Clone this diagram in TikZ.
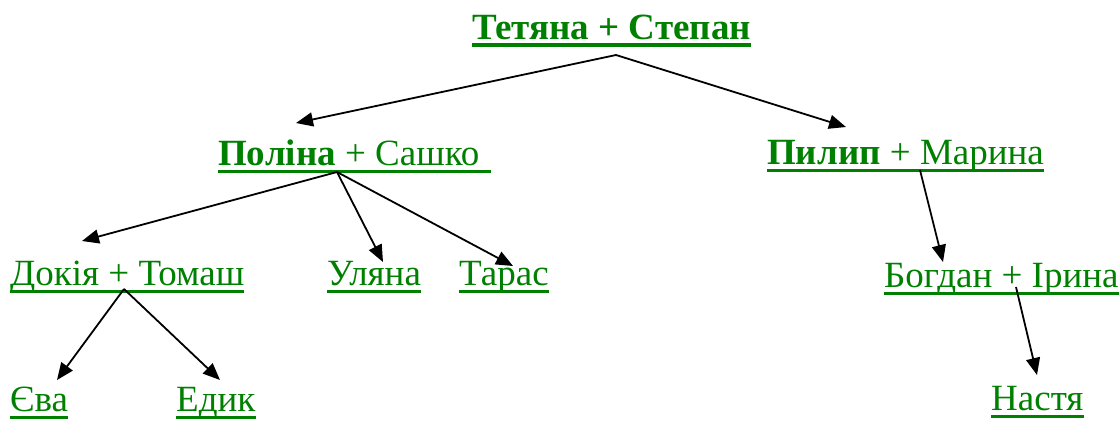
\documentclass[tikz,border=0pt]{standalone}
\usepackage{fontspec}
\setmainfont{Liberation Serif}
\usepackage{xcolor}
\usepackage{tikz}
\usetikzlibrary{calc,arrows.meta}
\definecolor{kin}{RGB}{0,128,0}
\tikzset{person/.style={text=kin,inner sep=0pt,text depth=5pt,anchor=south west,font=\fontsize{37}{40}\selectfont,
		append after command={(\tikzlastnode.south west) edge[draw=kin,line width=3pt] (\tikzlastnode.south east)}},
	root person/.style={person,append after command={(\tikzlastnode.south west) edge[draw=kin,line width=4pt] (\tikzlastnode.south east)}},
	descent/.style={draw=black,line width=1.8pt,-{Triangle[length=17pt,width=14pt]}}}

\begin{document}
\begin{tikzpicture}[x=1pt,y=-1pt]
			\useasboundingbox (0,0) rectangle (1120,421);
			\node[root person] (top) at (472,45) {\textbf{Тетяна + Степан}};
			\node[person] (pol) at (218,171) {\textbf{Поліна} + Сашко\hspace*{0.3em}};
			\node[person] (pyl) at (767,170) {\textbf{Пилип} + Марина};
			\node[person] (dok) at (10,291) {Докія + Томаш};
			\node[person] (ul) at (327,291) {Уляна};
			\node[person] (tar) at (459,291) {Тарас};
			\node[person] (bog) at (884,293) {Богдан + Ірина};
			\node[person] (yev) at (10,417) {Єва};
			\node[person] (ed) at (176,417) {Едик};
			\node[person] (nas) at (991,416) {Настя};
			\draw[descent] ($(top.south west)+(144,10)$) -- ($(pol.south west)+(78,-48)$);
			\draw[descent] ($(top.south west)+(144,10)$) -- ($(pyl.south west)+(79,-43)$);
			\draw[descent] ($(pol.south west)+(119,1)$) -- ($(dok.south west)+(72,-50)$);
			\draw[descent] ($(pol.south west)+(119,1)$) -- ($(ul.south west)+(56,-29)$);
			\draw[descent] ($(pol.south west)+(119,1)$) -- ($(tar.south west)+(54,-25)$);
			\draw[descent] ($(pyl.south west)+(153,0)$) -- ($(bog.south west)+(59,-31)$);
			\draw[descent] ($(dok.south west)+(114,-2)$) -- ($(yev.south west)+(47,-37)$);
			\draw[descent] ($(dok.south west)+(114,-2)$) -- ($(ed.south west)+(44,-37)$);
			\draw[descent] ($(bog.south west)+(132,-6)$) -- ($(nas.south west)+(46,-41)$);
		\end{tikzpicture}
\end{document}
